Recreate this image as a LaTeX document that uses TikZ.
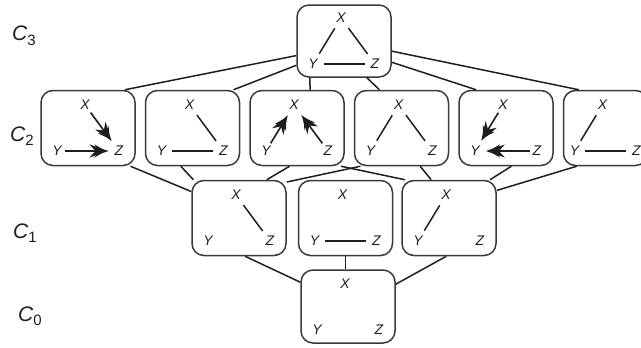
\documentclass[tikz,border=0pt]{standalone}
\usepackage{fontspec}
\setmainfont{Liberation Sans}
\usetikzlibrary{arrows.meta,positioning,calc}
\definecolor{latink}{HTML}{1E1E1E}
\definecolor{latframe}{HTML}{3A3A3A}
\tikzset{
  graphbox/.style={draw=latframe, line width=1.5pt, rounded corners=12pt,
    minimum width=94pt, minimum height=75pt, inner sep=0pt},
  vname/.style={font=\fontsize{14}{16}\selectfont\itshape, text=latink, inner sep=1pt},
  level/.style={font=\fontsize{21}{24}\selectfont\itshape, text=latink, inner sep=0pt,
    anchor=base west},
  link/.style={latink, line width=1.5pt},
  undir/.style={latink, line width=1.5pt, shorten <=5pt, shorten >=5pt},
  dir/.style={latink, line width=1.6pt, shorten <=2pt, shorten >=8pt,
    -{Stealth[length=19pt,width=13pt,inset=6pt,sep=-14pt]
    Stealth[length=11pt,width=13pt,inset=4pt]}},
}
% X, Y, Z inside one box
\newcommand{\xyz}[1]{%
  \node[vname] (#1x) at ($(#1.center)+(-3,23)$) {X};
  \node[vname] (#1y) at ($(#1.center)+(-31,-23)$) {Y};
  \node[vname] (#1z) at ($(#1.center)+(31,-23)$) {Z};}
\newcommand{\lvsub}[1]{\raisebox{-0.4ex}{\fontsize{15}{17}\selectfont\upshape #1}}

\begin{document}
\begin{tikzpicture}[x=1pt, y=1pt]
\useasboundingbox (0,0) rectangle (641,-348);

% ---- level labels ----------------------------------------------------
\node[level] (lthree) at (12,-41) {C\lvsub{3}};
\node[level] (ltwo) at (10,-141) {C\lvsub{2}};
\node[level] (lone) at (13,-238) {C\lvsub{1}};
\node[level] (lzero) at (18,-321) {C\lvsub{0}};

% ---- C3 --------------------------------------------------------------
\node[graphbox, minimum height=72pt] (c3) at (344,-41) {};
\xyz{c3}
\draw[undir] (c3x) -- (c3y);
\draw[undir] (c3x) -- (c3z);
\draw[undir] (c3y) -- (c3z);

% ---- C2 --------------------------------------------------------------
\node[graphbox] (a) at (88,-128) {};
\node[graphbox, right=9pt of a] (b) {};
\node[graphbox, right=9pt of b] (c) {};
\node[graphbox, right=9pt of c] (d) {};
\node[graphbox, right=9pt of d] (e) {};
\node[graphbox, right=9pt of e, minimum width=84pt] (f) {};
\xyz{a} \xyz{b} \xyz{c} \xyz{d} \xyz{e} \xyz{f}
\draw[dir] (ax) -- (az);
\draw[dir] (ay) -- (az);
\draw[undir] (bx) -- (bz);
\draw[undir] (by) -- (bz);
\draw[dir] (cy) -- (cx);
\draw[dir] (cz) -- (cx);
\draw[undir] (dx) -- (dy);
\draw[undir] (dx) -- (dz);
\draw[dir] (ex) -- (ey);
\draw[dir] (ez) -- (ey);
\draw[undir] (fx) -- (fy);
\draw[undir] (fy) -- (fz);

% ---- C1 --------------------------------------------------------------
\node[graphbox] (p) at (239,-218) {};
\node[graphbox, right=11pt of p] (q) {};
\node[graphbox, right=8pt of q] (r) {};
\xyz{p} \xyz{q} \xyz{r}
\draw[undir] (px) -- (pz);
\draw[undir] (qy) -- (qz);
\draw[undir] (rx) -- (ry);

% ---- C0 --------------------------------------------------------------
\node[graphbox, minimum height=73pt] (z) at (348,-306.5) {};
\xyz{z}

% ---- lattice links ---------------------------------------------------
\draw[link] (c3.197) -- (a.46);
\draw[link] (c3.207) -- (b.43);
\draw[link] (c3.227) -- (c.71);
\draw[link] (c3.302) -- (d.120);
\draw[link] (c3.336) -- (e.128);
\draw[link] (c3.348) -- (f.125);

\draw[link] (a.318) -- (p.151);
\draw[link] (b.253) -- (p.140);
\draw[link] (p.54) -- (c.259);
\draw[link] (p.37) -- (d.223);
\draw[link] (c.319) -- (r.139);
\draw[link] (d.296) -- (r.115);
\draw[link] (e.278) -- (r.43);
\draw[link] (f.233) -- (r.30);

\draw[link] (p.279) -- (z.153);
\draw[link] (q.south) -- (q.south |- z.north);
\draw[link] (r.266) -- (z.25);

\end{tikzpicture}
\end{document}
